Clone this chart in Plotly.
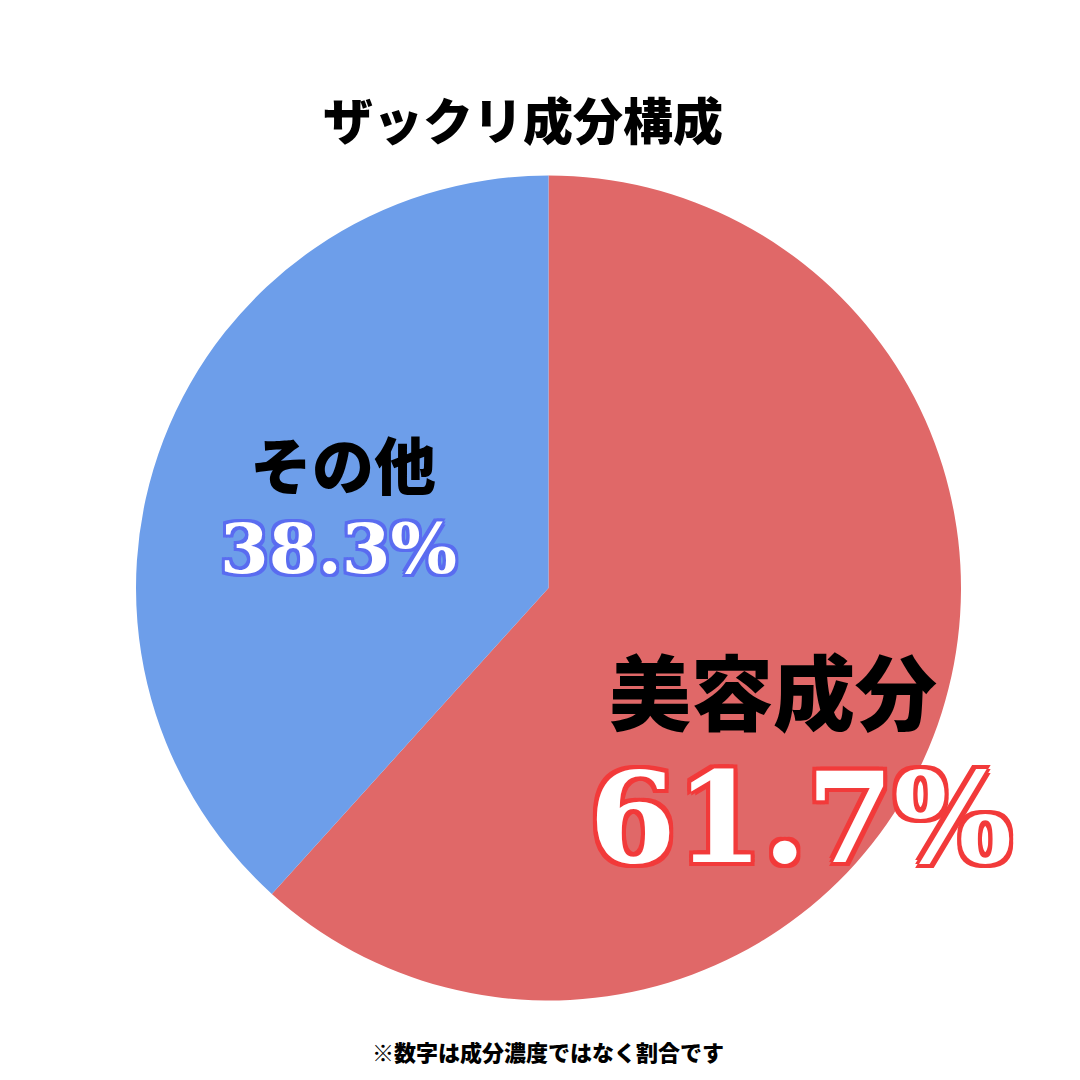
import plotly.graph_objects as go

labels = ["美容成分", "その他"]
values = [61.7, 38.3]
colors = ["#E06868", "#6D9EEA"]

W = 1080


def px(x, y):
    return x / W, 1 - y / W


def stroke(c, w=3):
    offs = [(w, 0), (-w, 0), (0, w), (0, -w), (w, w), (-w, -w), (w, -w), (-w, w)]
    return ", ".join(f"{a}px {b}px 0 {c}" for a, b in offs)


fig = go.Figure(go.Pie(
    labels=labels,
    values=values,
    marker=dict(colors=colors),
    sort=False,
    direction="clockwise",
    rotation=0,
    textinfo="none",
    hoverinfo="label+percent",
    domain=dict(x=[128 / W, 953 / W], y=[1 - 993 / W, 1 - 167 / W]),
    showlegend=False,
))

jp = "Noto Sans CJK JP"
notes = [
    ("ザックリ成分構成", 515, 110, 50, "black", None),
    ("その他", 335, 455, 62, "black", None),
    (f"{values[1]}%", 330, 540, 70, "white", stroke("#5a6cf0", 3)),
    (labels[0], 765, 680, 82, "black", None),
    (f"{values[0]}%", 792, 810, 125, "white", stroke("#f23a3a", 4)),
    ("※数字は成分濃度ではなく割合です", 540, 1043, 22, "black", None),
]
for text, x, y, size, col, sh in notes:
    ax, ay = px(x, y)
    font = dict(family=jp, size=size, color=col, weight=900)
    if sh:
        font["shadow"] = sh
        font["family"] = "DejaVu Serif"
        font["weight"] = "bold"
    fig.add_annotation(text=text, x=ax, y=ay, xref="paper", yref="paper",
                       showarrow=False, font=font, xanchor="center", yanchor="middle")

fig.update_layout(
    width=1080, height=1080,
    margin=dict(l=0, r=0, t=0, b=0),
    paper_bgcolor="white",
)
fig.write_html("out.html")
